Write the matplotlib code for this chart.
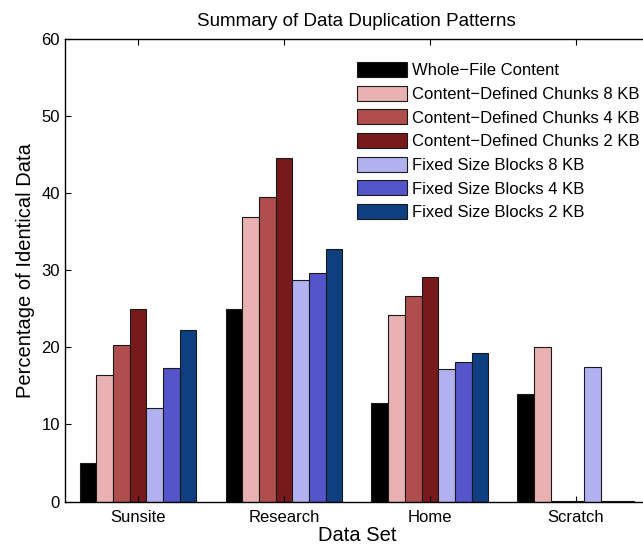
import numpy as np
import matplotlib
matplotlib.use('Agg')
import matplotlib.pyplot as plt

DATASETS = ['Sunsite', 'Research', 'Home', 'Scratch']
SERIES = ['Whole\u2212File Content',
          'Content\u2212Defined Chunks 8 KB',
          'Content\u2212Defined Chunks 4 KB',
          'Content\u2212Defined Chunks 2 KB',
          'Fixed Size Blocks 8 KB',
          'Fixed Size Blocks 4 KB',
          'Fixed Size Blocks 2 KB']

whole_file = [5.0, 25.0, 12.8, 14.0]
cdc_8kb = [16.4, 36.9, 24.2, 20.0]
cdc_4kb = [20.3, 39.5, 26.7, 0.1]
cdc_2kb = [25.0, 44.5, 29.1, 0.1]
fixed_8kb = [12.1, 28.7, 17.2, 17.5]
fixed_4kb = [17.3, 29.6, 18.05, 0.05]
fixed_2kb = [22.2, 32.8, 19.2, 0.05]

COLORS = ['#000000', '#E9B1B1', '#B04D4D', '#781A1B',
          '#B1B1F0', '#5454CB', '#0E3F80']

values = [whole_file, cdc_8kb, cdc_4kb, cdc_2kb, fixed_8kb, fixed_4kb, fixed_2kb]

plt.rcParams['font.family'] = ['Liberation Sans', 'DejaVu Sans']

def main():
    fig = plt.figure(figsize=(6.43, 5.51), dpi=100)
    ax = fig.add_axes([0.101, 0.0895, 0.908, 0.8405])

    x = np.arange(1, len(DATASETS) + 1)
    n = len(values)
    width = 0.8 / n
    for i, vals in enumerate(values):
        offs = (i - (n - 1) / 2.0) * width
        ax.bar(x + offs, vals, width, color=COLORS[i], edgecolor='#1a1a1a',
               linewidth=0.8, label=SERIES[i])

    ax.set_xlim(0.5, 4.5)
    ax.set_ylim(0, 60)
    ax.set_xticks(x)
    ax.set_xticklabels(DATASETS)
    ax.set_yticks(range(0, 61, 10))
    ax.tick_params(direction='in', length=4, labelsize=12, top=True, right=True)
    ax.tick_params(axis='x', pad=6)
    for s in ax.spines.values():
        s.set_linewidth(1.0)

    ax.set_xlabel('Data Set', fontsize=14.5, labelpad=1)
    ax.set_ylabel('Percentage of Identical Data', fontsize=14.5, labelpad=5)
    ax.set_title('Summary of Data Duplication Patterns', fontsize=13.5, pad=9)

    # no frame around the legend in the original
    ax.legend(loc='upper left', bbox_to_anchor=(0.491, 0.96),
              borderaxespad=0, fontsize=12, handlelength=3.0,
              handleheight=1.0, labelspacing=0.45, handletextpad=0.35,
              frameon=False, borderpad=0.3)

    fig.savefig('out.png', dpi=100)

if __name__ == '__main__':
    main()
